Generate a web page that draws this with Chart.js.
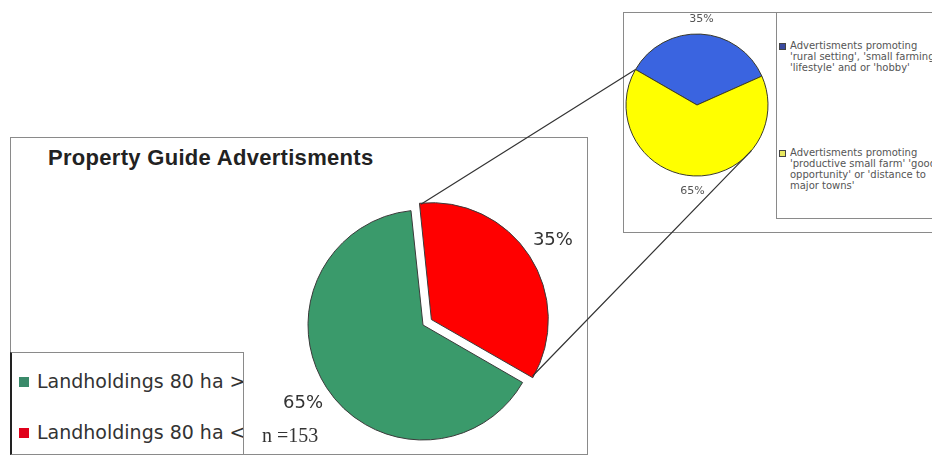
<!DOCTYPE html>
<html>
<head>
<meta charset="utf-8">
<script src="https://cdn.jsdelivr.net/npm/chart.js@4.4.1/dist/chart.umd.min.js"></script>
<style>
body{margin:0;width:932px;height:456px;background:#fff;position:relative;overflow:hidden;font-family:"DejaVu Sans",sans-serif}
.box{position:absolute;border:1.5px solid #8a8a8a;box-sizing:border-box;background:#fff}
.wrap{position:absolute}
#title{position:absolute;left:48px;top:145px;font:bold 22px "Liberation Sans",Arial,sans-serif;color:#222;letter-spacing:0.3px;white-space:nowrap}
#n{position:absolute;left:262px;top:424px;font:20px "Liberation Serif",serif;color:#333;white-space:nowrap}
#legend{left:10px;top:352px;width:234px;height:103px;overflow:hidden;border-left:2px solid #222}
#legend .row{position:absolute;left:7px;white-space:nowrap;font-size:19px;color:#333;line-height:22px}
#legend .sw{display:inline-block;width:10px;height:10px;margin-right:8px;vertical-align:1px}
#dlegend{left:776px;top:12px;width:200px;height:207px;overflow:hidden}
#dlegend .row{position:absolute;left:2px;font-size:10px;line-height:11px;color:#555;white-space:nowrap}
#dlegend .sw{position:absolute;left:0;top:3px;width:5px;height:5px;border:1px solid #444}
#dlegend .txt{margin-left:11px}
#lines{position:absolute;left:0;top:0;pointer-events:none}
</style>
</head>
<body>
<div class="box" style="left:623px;top:12px;width:340px;height:221px"></div>
<div class="box" id="dlegend"></div>
<div class="wrap" style="left:623px;top:12px;width:153px;height:220px"><canvas id="detail"></canvas></div>

<div class="box" style="left:10px;top:137px;width:578px;height:318px"></div>
<div id="title">Property Guide Advertisments</div>
<div class="wrap" id="mainWrap" style="left:10px;top:137px;width:577px;height:319px"><canvas id="main"></canvas></div>
<div class="box" id="legend"></div>
<div id="n"></div>
<canvas id="lines" width="932" height="456"></canvas>

<script>
const mainLabels = ['Landholdings 80 ha >', 'Landholdings 80 ha <'];
const mainValues = [65, 35];
const mainColors = ['#3a9a6b', '#ff0000'];
const mainLegendColors = ['#3a8a6a', '#e0001a'];

const detailLabels = [
  ["Advertisments promoting", "'rural setting', 'small farming'", "'lifestyle' and or 'hobby'"],
  ["Advertisments promoting", "'productive small farm' 'good", "opportunity' or 'distance to", "major towns'"]
];
const detailValues = [35, 65];
const detailColors = ['#3a64e0', '#ffff00'];

const sampleSize = 153;

// percentage labels outside each slice
const pctLabels = {
  id: 'pctLabels',
  afterDatasetsDraw(chart, args, opts) {
    const ctx = chart.ctx;
    const ds = chart.data.datasets[0];
    const total = ds.data.reduce((a, b) => a + b, 0);
    ctx.save();
    ctx.font = opts.font;
    ctx.fillStyle = opts.color;
    ctx.textAlign = 'center';
    ctx.textBaseline = 'middle';
    chart.getDatasetMeta(0).data.forEach((arc, i) => {
      const mid = (arc.startAngle + arc.endAngle) / 2;
      const d = arc.outerRadius + opts.dist + arcShift(arc);
      ctx.fillText(Math.round(ds.data[i] / total * 100) + '%', arc.x + Math.cos(mid) * d, arc.y + Math.sin(mid) * d);
    });
    ctx.restore();
  }
};

// how far chart.js moves an arc out for its offset
function arcShift(arc) {
  const off = (arc.options.offset || 0) / 4;
  const circ = arc.endAngle - arc.startAngle;
  const fix = 1 - Math.sin(Math.min(Math.PI, circ));
  return off + off * fix;
}

const mainChart = new Chart(document.getElementById('main'), {
  type: 'pie',
  data: {
    labels: mainLabels,
    datasets: [{
      data: mainValues,
      backgroundColor: mainColors,
      borderColor: '#3a3a3a',
      borderWidth: 1,
      offset: [0, 40]
    }]
  },
  options: {
    responsive: true,
    maintainAspectRatio: false,
    animation: false,
    rotation: 120,
    radius: 115,
    layout: { padding: { left: 249, top: 57, right: 0, bottom: 0 } },
    plugins: {
      legend: { display: false },
      tooltip: { enabled: false },
      pctLabels: { font: '18px "DejaVu Sans"', color: '#333', dist: 28 }
    }
  },
  plugins: [pctLabels]
});

const detailChart = new Chart(document.getElementById('detail'), {
  type: 'pie',
  data: {
    labels: detailLabels,
    datasets: [{
      data: detailValues,
      backgroundColor: detailColors,
      borderColor: '#3a3a2a',
      borderWidth: 1
    }]
  },
  options: {
    responsive: true,
    maintainAspectRatio: false,
    animation: false,
    rotation: -60,
    radius: 71,
    layout: { padding: { left: 0, top: 0, right: 5, bottom: 34 } },
    plugins: {
      legend: { display: false },
      tooltip: { enabled: false },
      pctLabels: { font: '11px "DejaVu Sans"', color: '#555', dist: 15 }
    }
  },
  plugins: [pctLabels]
});

// legends
const lg = document.getElementById('legend');
mainLabels.forEach((l, i) => {
  const r = document.createElement('div');
  r.className = 'row';
  r.style.top = (17 + i * 51) + 'px';
  r.innerHTML = '<span class="sw" style="background:' + mainLegendColors[i] + '"></span>';
  r.appendChild(document.createTextNode(l));
  lg.appendChild(r);
});
const dl = document.getElementById('dlegend');
const dRowTop = [27, 134];
detailLabels.forEach((lines, i) => {
  const r = document.createElement('div');
  r.className = 'row';
  r.style.top = dRowTop[i] + 'px';
  r.innerHTML = '<span class="sw" style="background:' + (i == 0 ? '#3a4aa0' : '#e8e860') + '"></span>';
  const t = document.createElement('div');
  t.className = 'txt';
  lines.forEach(s => { const d = document.createElement('div'); d.textContent = s; t.appendChild(d); });
  r.appendChild(t);
  dl.appendChild(r);
});
document.getElementById('n').textContent = 'n =' + sampleSize;

// lines joining the exploded slice to the detail pie
function edgePoint(chart, i, ang) {
  const arc = chart.getDatasetMeta(0).data[i];
  const box = chart.canvas.getBoundingClientRect();
  const mid = (arc.startAngle + arc.endAngle) / 2;
  const s = arcShift(arc);
  return [box.left + arc.x + Math.cos(mid) * s + Math.cos(ang) * arc.outerRadius,
          box.top + arc.y + Math.sin(mid) * s + Math.sin(ang) * arc.outerRadius];
}
const redArc = mainChart.getDatasetMeta(0).data[1];
const blueArc = detailChart.getDatasetMeta(0).data[0];
const lowerJoinAngle = (130 - 90) * Math.PI / 180;
const a1 = edgePoint(mainChart, 1, redArc.startAngle);
const b1 = edgePoint(detailChart, 0, blueArc.startAngle);
const a2 = edgePoint(mainChart, 1, redArc.endAngle);
const b2 = edgePoint(detailChart, 1, lowerJoinAngle);
const lc = document.getElementById('lines').getContext('2d');
lc.strokeStyle = '#333';
lc.lineWidth = 1.2;
lc.beginPath();
lc.moveTo(a1[0], a1[1]); lc.lineTo(b1[0], b1[1]);
lc.moveTo(a2[0], a2[1]); lc.lineTo(b2[0], b2[1]);
lc.stroke();
</script>
</body>
</html>
